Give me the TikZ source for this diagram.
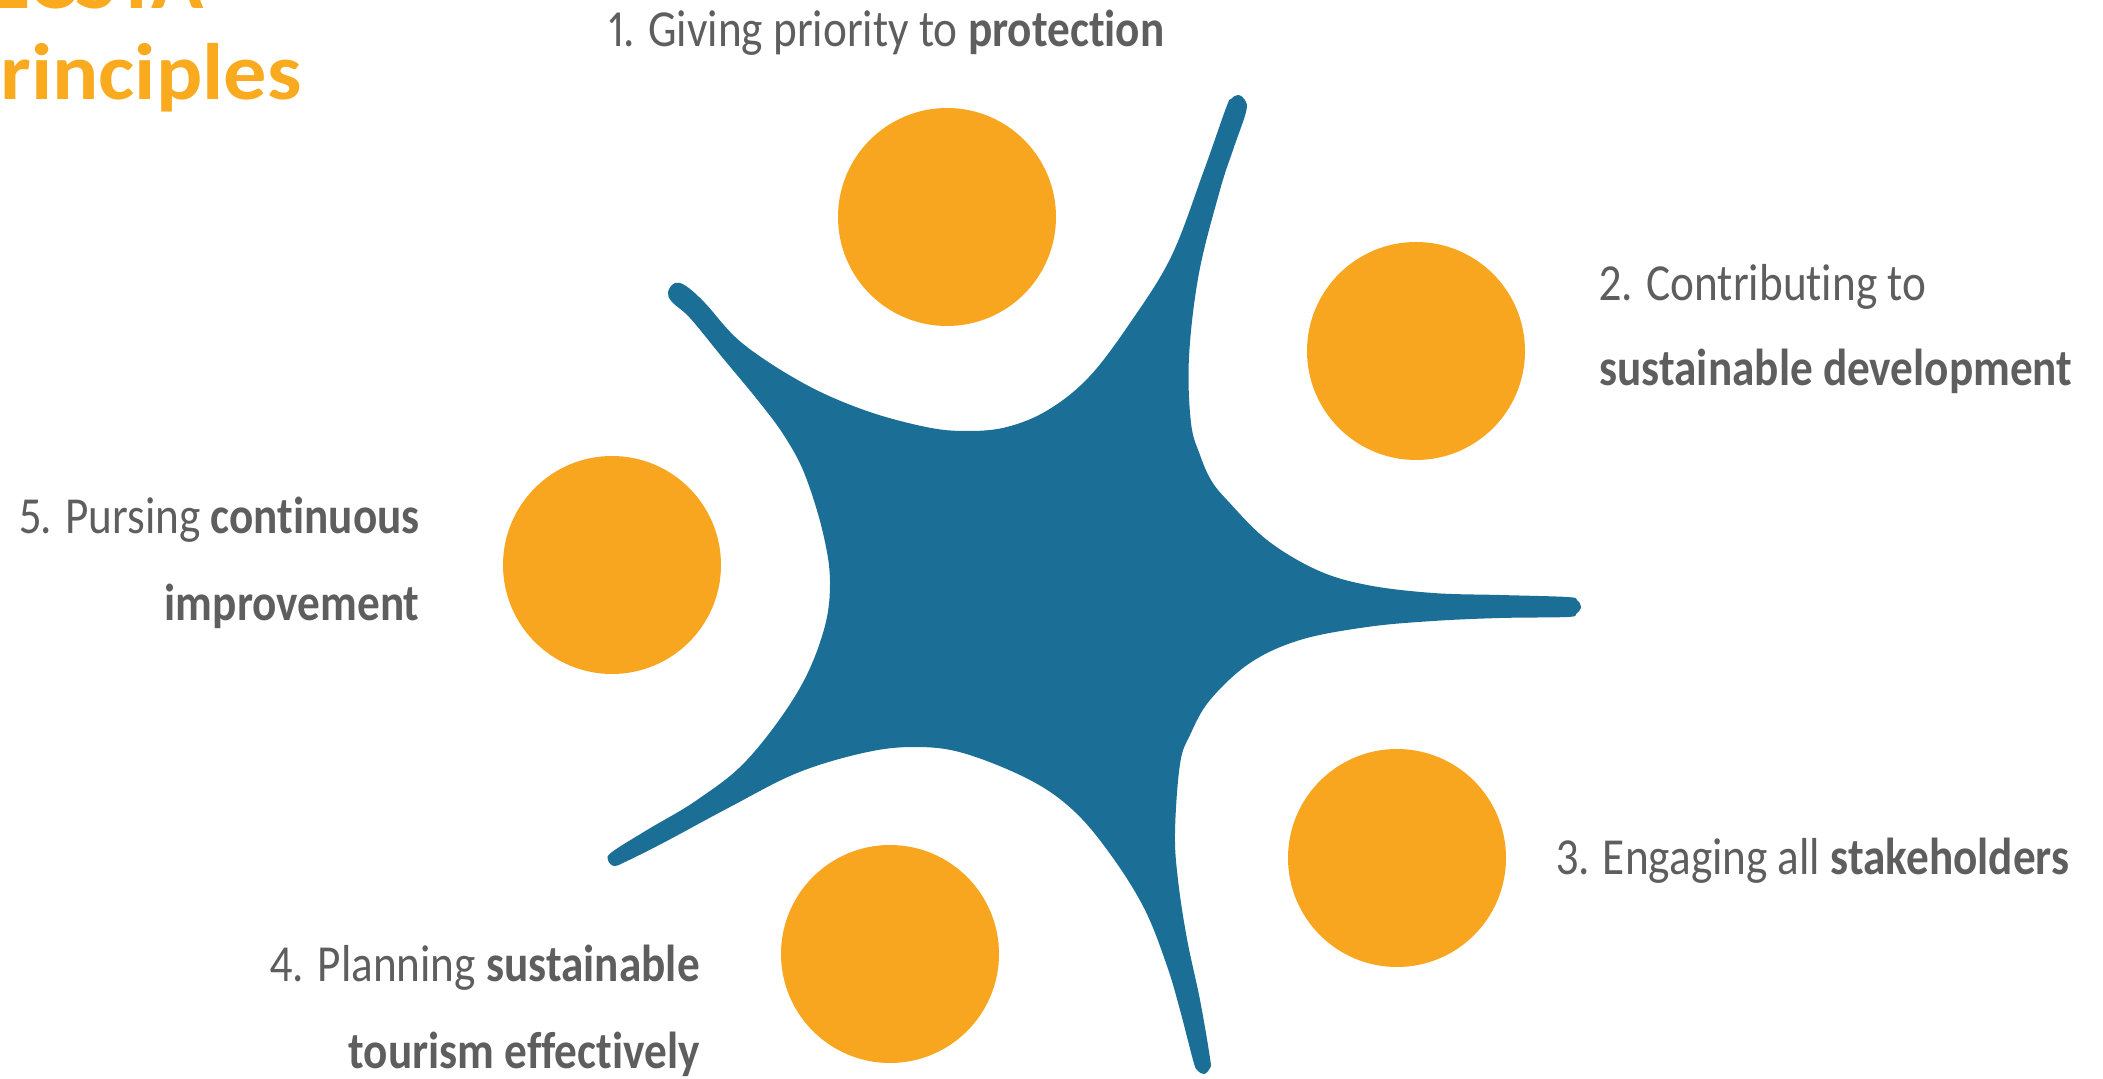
\documentclass[tikz,border=0pt]{standalone}
\usepackage{fontspec}
\setmainfont{Carlito}[FakeStretch=0.87, Ligatures=NoCommon, Numbers=Proportional]
\newfontfamily\headfont{Carlito}[FakeStretch=1.08, Ligatures=NoCommon]
\definecolor{starblue}{HTML}{1B6F96}
\definecolor{sunorange}{HTML}{F8A620}
\definecolor{headorange}{HTML}{FAAA1E}
\definecolor{txtgray}{HTML}{5E5E5E}
\tikzset{
  dot/.style={circle, fill=sunorange, minimum size=109pt, inner sep=0pt},
  caption/.style={font=\fontsize{26}{30}\selectfont, text=txtgray, inner sep=0pt},
  headline/.style={font=\headfont\bfseries\fontsize{40}{44}\selectfont, text=headorange, inner sep=0pt}
}
\begin{document}
\begin{tikzpicture}[x=0.5pt, y=-0.5pt]
\useasboundingbox (0,0) rectangle (2103,1079);
\clip (0,0) rectangle (2103,1079);

% heading, partly outside the frame
\node[headline, anchor=base west] (head1) at (-12,9) {ECSTA};
\node[headline, anchor=base west] (head2) at (-46,100) {Principles};

% five-armed star
\fill[starblue] plot[smooth cycle, tension=0.6] coordinates {
  (1231,99) (1238,95) (1245,100) (1246,112)
  (1233,150) (1220,190) (1199,273) (1189,357) (1191,423) (1200,455)
  (1211,480) (1227,500) (1267,540) (1317,570) (1367,585) (1433,593)
  (1500,595) (1567,597)
  (1577,600) (1581,607) (1576,614) (1567,617)
  (1500,618) (1433,621) (1367,627) (1300,640) (1250,663) (1210,700)
  (1190,735) (1180,764) (1175,832) (1178,880) (1187,939) (1200,1000)
  (1210,1058)
  (1210,1068) (1204,1074) (1197,1070) (1193,1060)
  (1180,1010) (1167,966) (1145,910) (1113,858) (1075,812) (1030,780)
  (963,753) (913,747) (863,753) (797,773) (730,807) (663,843) (625,862)
  (614,866) (608,860) (612,852)
  (647,830) (697,800) (747,760) (797,693) (823,633) (830,583) (823,533)
  (805,475) (785,437) (760,403) (722,357) (690,318) (672,302)
  (668,292) (675,283) (686,286)
  (705,303) (742,343) (803,383) (864,410) (926,427) (967,431) (1007,427)
  (1048,410) (1089,377) (1130,323) (1171,257) (1203,173) (1226,108)
};

% the five principles
\node[dot] (p1) at (947,217) {};
\node[dot] (p2) at (1416,351) {};
\node[dot] (p3) at (1397,858) {};
\node[dot] (p4) at (890,954) {};
\node[dot] (p5) at (612,565) {};

\node[caption, anchor=base west] (t1) at (608,47) {1. Giving priority to \textbf{protection}};
\node[caption, anchor=base west] (t2a) at (1599,301) {2. Contributing to};
\node[caption, anchor=base west] (t2b) at (1599,386) {\textbf{sustainable development}};
\node[caption, anchor=base west] (t3) at (1556,874) {3. Engaging all \textbf{stakeholders}};
\node[caption, anchor=base east] (t4a) at (700,981) {4. Planning \textbf{sustainable}};
\node[caption, anchor=base east] (t4b) at (700,1068) {\textbf{tourism effectively}};
\node[caption, anchor=base east] (t5a) at (420,533) {5. Pursing \textbf{continuous}};
\node[caption, anchor=base east] (t5b) at (420,620) {\textbf{improvement}};
\end{tikzpicture}
\end{document}
